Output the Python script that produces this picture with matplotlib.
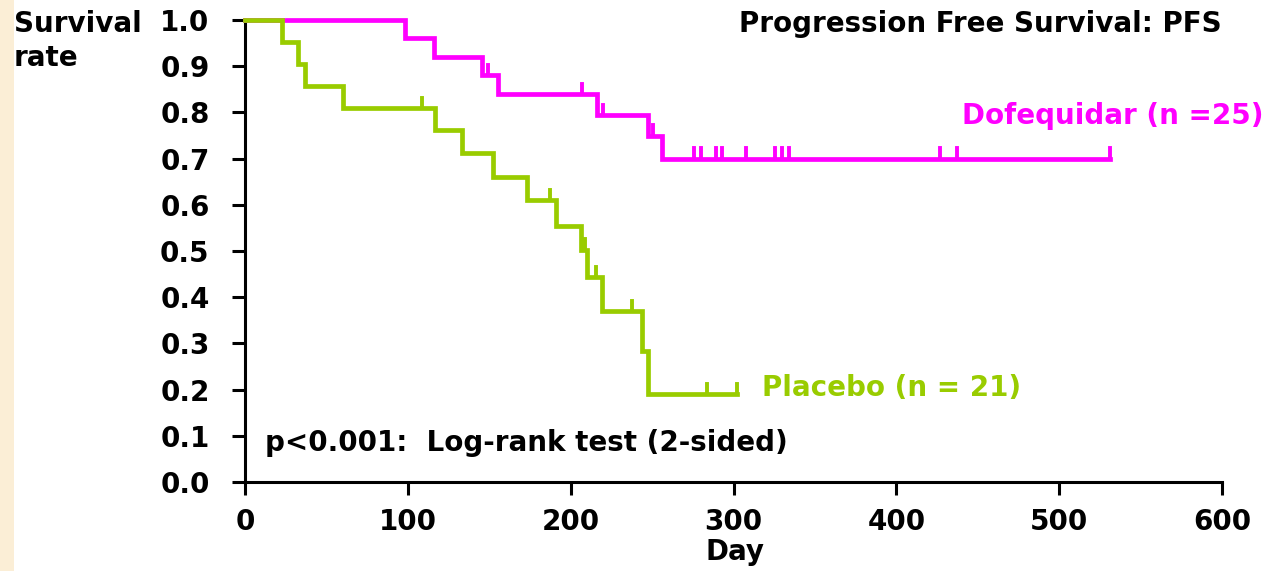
import numpy as np
import matplotlib
matplotlib.use('Agg')
import matplotlib.pyplot as plt
from matplotlib.patches import Rectangle

# Kaplan-Meier steps
dof_days = [0, 98, 116, 145.5, 155.5, 216, 247.5, 256]
dof_surv = [1.0, 0.96, 0.92, 0.88, 0.84, 0.795, 0.75, 0.70]
dof_end = 531
dof_censor = [149, 207, 220, 250.6, 276, 280, 289.3, 293.2, 307.5, 325.5,
              329.8, 334, 426.9, 437.4, 531]

pla_days = [0, 23, 32.4, 37, 60.4, 116.7, 133, 152.5, 173, 191, 206.4, 210,
            219.5, 244, 247.7]
pla_surv = [1.0, 0.952, 0.905, 0.857, 0.81, 0.762, 0.713, 0.66, 0.61, 0.555,
            0.503, 0.443, 0.37, 0.283, 0.19]
pla_end = 302
pla_censor = [108.5, 187.3, 208.8, 215.4, 237.5, 284, 302]

x_ticks = [0, 100, 200, 300, 400, 500, 600]
y_ticks = [0.0, 0.1, 0.2, 0.3, 0.4, 0.5, 0.6, 0.7, 0.8, 0.9, 1.0]

MAGENTA = '#FF00FF'
GREEN = '#99CC00'
FS = 20

plt.rcParams['font.family'] = ['DejaVu Sans']
plt.rcParams['font.weight'] = 'bold'

fig = plt.figure(figsize=(12.8, 5.71), dpi=100)
fig.patch.set_facecolor('white')
fig.patches.append(Rectangle((0, 0), 14 / 1280, 1, transform=fig.transFigure,
                             facecolor='#FBEED6', edgecolor='none', zorder=-1))

ax = fig.add_axes([245 / 1280, 1 - 482 / 571, 977 / 1280, 462 / 571])


def km(days, surv, end, censor, color):
    xs = list(days) + [end]
    ys = list(surv) + [surv[-1]]
    ax.plot(xs, ys, drawstyle='steps-post', color=color, lw=3.4,
            clip_on=False, solid_joinstyle='miter', zorder=3)
    for c in censor:
        i = np.searchsorted(days, c, side='right') - 1
        y = surv[i]
        ax.plot([c, c], [y, y + 0.022], color=color, lw=2.8,
                clip_on=False, zorder=3)


km(dof_days, dof_surv, dof_end, dof_censor, MAGENTA)
km(pla_days, pla_surv, pla_end, pla_censor, GREEN)

ax.set_xlim(0, 600)
ax.set_ylim(0, 1.0)
ax.set_xticks(x_ticks)
ax.set_yticks(y_ticks)
ax.set_yticklabels(['%.1f' % v for v in y_ticks])
for s in ['top', 'right']:
    ax.spines[s].set_visible(False)
for s in ['left', 'bottom']:
    ax.spines[s].set_linewidth(2.2)
ax.tick_params(axis='both', width=2.2, length=9.5, labelsize=FS)
ax.tick_params(axis='y', pad=16)
ax.tick_params(axis='x', pad=9)

fig.text(0.9547, 0.958, 'Progression Free Survival: PFS', ha='right',
         va='center', fontsize=FS, fontweight='bold')
fig.text(0.011, 0.983, 'Survival\nrate', ha='left', va='top', fontsize=FS,
         fontweight='bold', linespacing=1.3)
fig.text(962 / 1280, 1 - 116 / 571, 'Dofequidar (n =25)', ha='left',
         va='center', fontsize=FS, fontweight='bold', color=MAGENTA)
fig.text(762 / 1280, 1 - 388 / 571, 'Placebo (n = 21)', ha='left',
         va='center', fontsize=FS, fontweight='bold', color=GREEN)
fig.text(265 / 1280, 1 - 443 / 571, 'p<0.001:  Log-rank test (2-sided)',
         ha='left', va='center', fontsize=FS, fontweight='bold')
fig.text(735 / 1280, 1 - 552 / 571, 'Day', ha='center', va='center',
         fontsize=FS, fontweight='bold')

plt.savefig('out.png', dpi=100)
